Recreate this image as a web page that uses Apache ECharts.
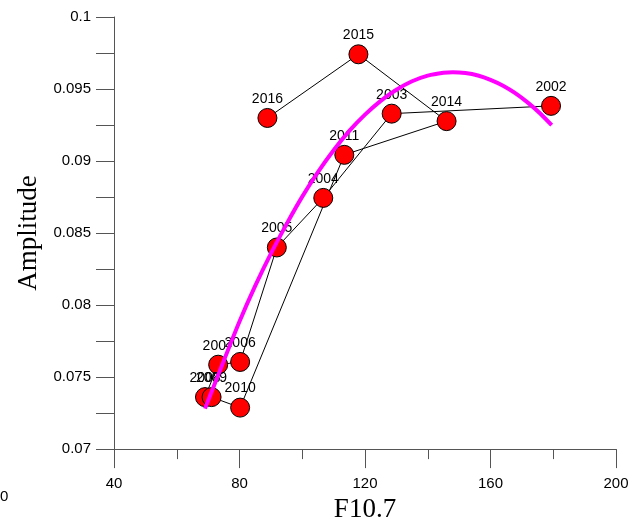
<!DOCTYPE html>
<html>
<head>
<meta charset="utf-8">
<script src="https://cdn.jsdelivr.net/npm/echarts@6/dist/echarts.min.js"></script>
<style>
html,body{margin:0;padding:0;background:#fff;}
#chart{width:634px;height:528px;}
</style>
</head>
<body>
<div id="chart"></div>
<script>
// Observations (chronological order, connected by a thin line)
const years = ['2002','2003','2004','2005','2006','2007','2008','2009','2010','2011','2014','2015','2016'];
const f107 = [179.3, 128.5, 106.7, 91.9, 80.2, 73.2, 69.0, 71.1, 80.2, 113.4, 146.0, 117.9, 88.9];
const amplitude = [0.09383, 0.09329, 0.08744, 0.08400, 0.07605, 0.07586, 0.07361, 0.07361, 0.07288, 0.09043, 0.09277, 0.09741, 0.09299];

// Fitted curve
const fitX = [69, 75, 80, 85, 90, 95, 100, 105, 110, 115, 120, 125, 130, 135, 140, 145, 148, 152, 156, 160, 164, 168, 172, 176, 179.5];
const fitY = [0.07281, 0.07614, 0.07886, 0.08133, 0.08357, 0.08562, 0.08753, 0.08923, 0.09075, 0.09209, 0.09322, 0.09418, 0.09495, 0.09554, 0.09593, 0.09613, 0.09617, 0.09611, 0.09594, 0.09564, 0.09523, 0.09470, 0.09404, 0.09327, 0.09249];

const xTicks = [40, 80, 120, 160, 200];
const yTicks = [0.07, 0.075, 0.08, 0.085, 0.09, 0.095, 0.1];

const chart = echarts.init(document.getElementById('chart'), null, {renderer: 'canvas'});
const axisColor = '#555';
const tickFont = {fontFamily: '"Liberation Sans", Arial, sans-serif', fontSize: 15, color: '#000'};
const yearFont = {fontFamily: '"Liberation Sans", Arial, sans-serif', fontSize: 14, color: '#000'};
const nameFont = {fontFamily: '"Liberation Serif", "Times New Roman", serif', fontSize: 27, color: '#000'};

chart.setOption({
  animation: false,
  backgroundColor: '#fff',
  grid: {left: 114, right: 18, top: 17, bottom: 70, containLabel: false},
  xAxis: {
    type: 'value', min: 40, max: 200, interval: 40,
    axisLine: {show: true, onZero: false, lineStyle: {color: axisColor, width: 1}},
    axisTick: {show: true, length: 19, lineStyle: {color: axisColor}},
    minorTick: {show: true, splitNumber: 2, length: 10, lineStyle: {color: axisColor}},
    splitLine: {show: false},
    axisLabel: Object.assign({margin: 27, formatter: v => xTicks.includes(v) ? String(v) : ''}, tickFont),
    name: 'F10.7', nameLocation: 'middle', nameGap: 43,
    nameTextStyle: nameFont
  },
  yAxis: {
    type: 'value', min: 0.07, max: 0.1, interval: 0.0025,
    axisLine: {show: true, onZero: false, lineStyle: {color: axisColor, width: 1}},
    axisTick: {show: true, length: 18, lineStyle: {color: axisColor}},
    splitLine: {show: false},
    axisLabel: Object.assign({margin: 23, formatter: v => {
      const r = Math.round(v * 10000);
      if (r % 50 !== 0) return '';
      const t = yTicks.find(k => Math.abs(k - v) < 1e-7);
      return t === undefined ? '' : String(t);
    }}, tickFont),
    name: 'Amplitude', nameLocation: 'middle', nameGap: 70, nameRotate: 90,
    nameTextStyle: nameFont
  },
  graphic: [{
    type: 'text', left: 0, top: 489,
    style: {text: '0', font: '15px "Liberation Sans", Arial, sans-serif', fill: '#000'}
  }],
  series: [{
    type: 'line',
    data: f107.map((x, i) => ({value: [x, amplitude[i]], name: years[i]})),
    lineStyle: {color: '#000', width: 1},
    symbol: 'circle', symbolSize: 19,
    itemStyle: {color: '#ff0000', borderColor: '#000', borderWidth: 1},
    label: Object.assign({show: true, position: 'top', distance: 2, offset: [3, 0], formatter: p => p.name}, yearFont),
    labelLayout: {hideOverlap: false},
    z: 2
  }, {
    type: 'line',
    data: fitX.map((x, i) => [x, fitY[i]]),
    smooth: 0.3, showSymbol: false, symbol: 'none',
    lineStyle: {color: '#ff00ff', width: 4},
    z: 5
  }]
});
</script>
</body>
</html>
